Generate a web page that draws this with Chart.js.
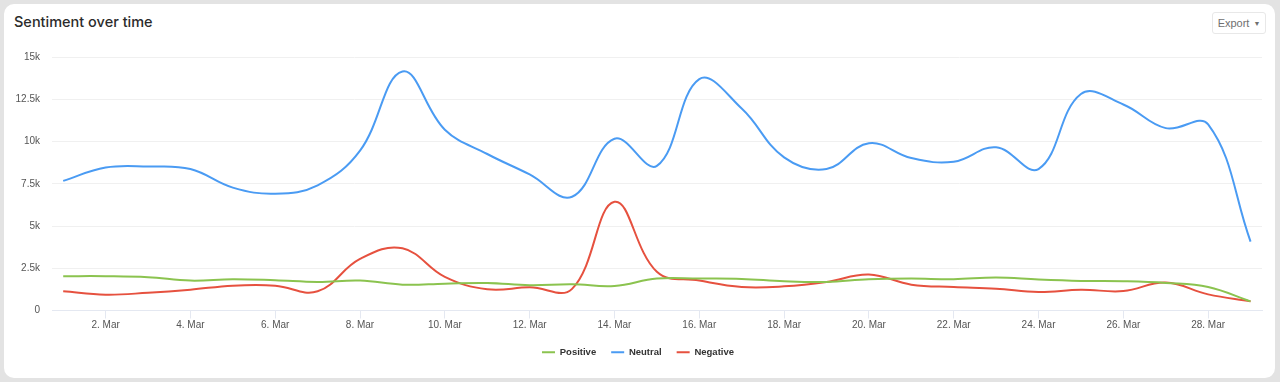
<!DOCTYPE html>
<html>
<head>
<meta charset="utf-8">
<script src="https://cdn.jsdelivr.net/npm/chart.js@4/dist/chart.umd.min.js"></script>
<style>
  html, body { margin: 0; padding: 0; background: #e3e3e3; width: 1280px; height: 382px; overflow: hidden; }
  #card { position: absolute; left: 4px; top: 4px; width: 1271px; height: 374px; background: #fff; border-radius: 10px; }
  #title { position: absolute; left: 14px; top: 13px; font-family: Inter, "Liberation Sans", sans-serif; font-size: 14.5px; font-weight: 500; color: #2b2b2b; }
  #export { position: absolute; left: 1212px; top: 12px; width: 54px; height: 22px; box-sizing: border-box; border: 1px solid #e8e8e8; border-radius: 3px;
            font-family: "Liberation Sans", sans-serif; font-size: 11px; color: #707070; line-height: 21px; text-align: center; background:#fff; }
  #export span { font-size: 7px; margin-left: 4px; position: relative; top: -1px; }
  #wrap { position: absolute; left: 0; top: 0; width: 1280px; height: 382px; }
</style>
</head>
<body>
<div id="card"></div>
<div id="title">Sentiment over time</div>
<div id="export">Export<span>▼</span></div>
<div id="wrap"><canvas id="c" width="1280" height="382"></canvas></div>
<script>
const days = [1,2,3,4,5,6,7,8,9,10,11,12,13,14,15,16,17,18,19,20,21,22,23,24,25,26,27,28,29];
const monthLabel = "Mar";
const xTickDays = [2,4,6,8,10,12,14,16,18,20,22,24,26,28];
const yTicks = [0,2500,5000,7500,10000,12500,15000];
const yTickLabels = ["0","2.5k","5k","7.5k","10k","12.5k","15k"];
const positive = [2030,2030,1970,1770,1850,1790,1690,1770,1530,1590,1630,1500,1550,1450,1890,1890,1870,1730,1690,1850,1890,1850,1950,1830,1750,1730,1630,1390,540];
const neutral  = [7670,8460,8520,8370,7270,6910,7410,9460,14140,10700,9260,8050,6730,10160,8560,13690,11950,9060,8370,9900,9020,8800,9660,8370,12810,12190,10790,11010,4080];
const negative = [1135,935,1050,1230,1470,1470,1135,3050,3680,1990,1255,1370,1280,6430,2290,1770,1390,1430,1690,2130,1530,1390,1290,1095,1230,1150,1650,955,540];

const mk = (label, data, color) => ({
  label, data: days.map((d, i) => ({x: d, y: data[i]})),
  borderColor: color, backgroundColor: color, borderWidth: 2,
  pointRadius: 0, pointHoverRadius: 0, tension: 0.4, fill: false
});

new Chart(document.getElementById('c'), {
  type: 'line',
  data: { datasets: [
    mk('Positive', positive, '#8bc34f'),
    mk('Neutral', neutral, '#4a9bf3'),
    mk('Negative', negative, '#e6513f')
  ]},
  options: {
    responsive: false, animation: false,
    layout: { padding: { left: 14, right: 18, top: 57, bottom: 15 } },
    plugins: {
      tooltip: { enabled: false },
      legend: {
        position: 'bottom',
        labels: {
          usePointStyle: true, pointStyle: 'line', pointStyleWidth: 13,
          boxHeight: 2, padding: 15, color: '#333',
          font: { family: '"Liberation Sans", sans-serif', size: 9.5, weight: 'bold' },
          generateLabels(chart) {
            return chart.data.datasets.map((ds, i) => ({
              text: ds.label, strokeStyle: ds.borderColor, fillStyle: ds.borderColor,
              lineWidth: 2, pointStyle: 'line', datasetIndex: i, hidden: false, fontColor: '#333'
            }));
          }
        }
      }
    },
    scales: {
      x: {
        type: 'linear', min: 0.736, max: 29.27,
        afterBuildTicks: ax => { ax.ticks = xTickDays.map(v => ({value: v})); },
        afterFit: s => { s.height = 22; },
        grid: { drawOnChartArea: false, drawTicks: true, tickLength: 8, color: '#e4e8f1' },
        border: { color: '#e4e8f1', width: 1 },
        ticks: { color: '#555', padding: 1, maxRotation: 0, autoSkip: false,
                 font: { family: '"Liberation Sans", sans-serif', size: 10 },
                 callback: v => v + '. ' + monthLabel }
      },
      y: {
        min: 0, max: 15000,
        afterBuildTicks: ax => { ax.ticks = yTicks.map(v => ({value: v})); },
        afterFit: s => { s.width = 38; },
        grid: { color: '#f0f0f0', drawTicks: false },
        border: { display: false },
        ticks: { color: '#555', padding: 12,
                 font: { family: '"Liberation Sans", sans-serif', size: 10 },
                 callback: v => yTickLabels[yTicks.indexOf(v)] }
      }
    }
  }
});
</script>
</body>
</html>
